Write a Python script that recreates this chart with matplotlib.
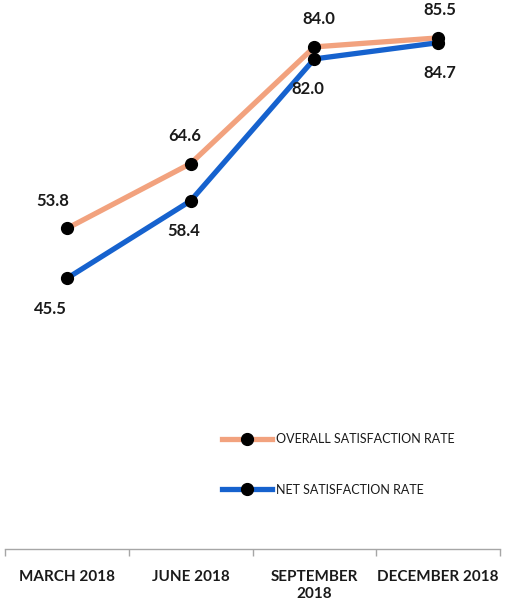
import matplotlib.pyplot as plt
from matplotlib.ticker import FixedLocator

plt.rcParams['font.family'] = ['Lato', 'DejaVu Sans']

# Survey periods and rates
periods = ['MARCH 2018', 'JUNE 2018', 'SEPTEMBER\n2018', 'DECEMBER 2018']
overall_rate = [53.8, 64.6, 84.0, 85.5]
net_rate = [45.5, 58.4, 82.0, 84.7]

overall_color = '#F2A27E'
net_color = '#1662CE'

fig = plt.figure(figsize=(5.07, 6.03), dpi=100)
ax = fig.add_axes([5 / 507, 54 / 603, 495 / 507, 549 / 603])

x = list(range(len(periods)))
ax.plot(x, overall_rate, color=overall_color, linewidth=3.8, marker='o',
        markersize=8.5, markerfacecolor='black', markeredgecolor='black',
        label='OVERALL SATISFACTION RATE', zorder=3)
ax.plot(x, net_rate, color=net_color, linewidth=3.8, marker='o',
        markersize=8.5, markerfacecolor='black', markeredgecolor='black',
        label='NET SATISFACTION RATE', zorder=3)

# data labels: overall above, net below (offsets in points)
above_dx = [-10, -4, 3, 1]
below_dx = [-12, -5, -5, 1]
for i in x:
    ax.annotate(f'{overall_rate[i]:.1f}', (i, overall_rate[i]),
                xytext=(above_dx[i], 20), textcoords='offset points',
                ha='center', va='center', fontsize=12, fontweight='bold',
                color='#1a1a1a')
    ax.annotate(f'{net_rate[i]:.1f}', (i, net_rate[i]),
                xytext=(below_dx[i], -22), textcoords='offset points',
                ha='center', va='center', fontsize=12, fontweight='bold',
                color='#1a1a1a')

ax.set_xlim(-0.5, len(periods) - 0.5)
ax.set_ylim(0.5, 91.8)
ax.set_yticks([])
ax.set_xticks(x)
ax.set_xticklabels(periods, fontsize=11, fontweight='bold', color='#1a1a1a',
                   linespacing=1.3)
ax.tick_params(axis='x', which='major', length=0, pad=15)
ax.xaxis.set_minor_locator(FixedLocator([-0.5, 0.5, 1.5, 2.5, 3.5]))
ax.tick_params(axis='x', which='minor', length=5, color='#A6A6A6', width=1)

for side in ['left', 'right', 'top']:
    ax.spines[side].set_visible(False)
ax.spines['bottom'].set_color('#A6A6A6')
ax.spines['bottom'].set_linewidth(1)

ax.legend(loc='center left', bbox_to_anchor=(0.438, 0.154), frameon=False,
          fontsize=9, handlelength=4.0, labelspacing=3.1, borderpad=0,
          borderaxespad=0, handletextpad=0.3, labelcolor='#1a1a1a')

fig.savefig('out.png', dpi=100)
